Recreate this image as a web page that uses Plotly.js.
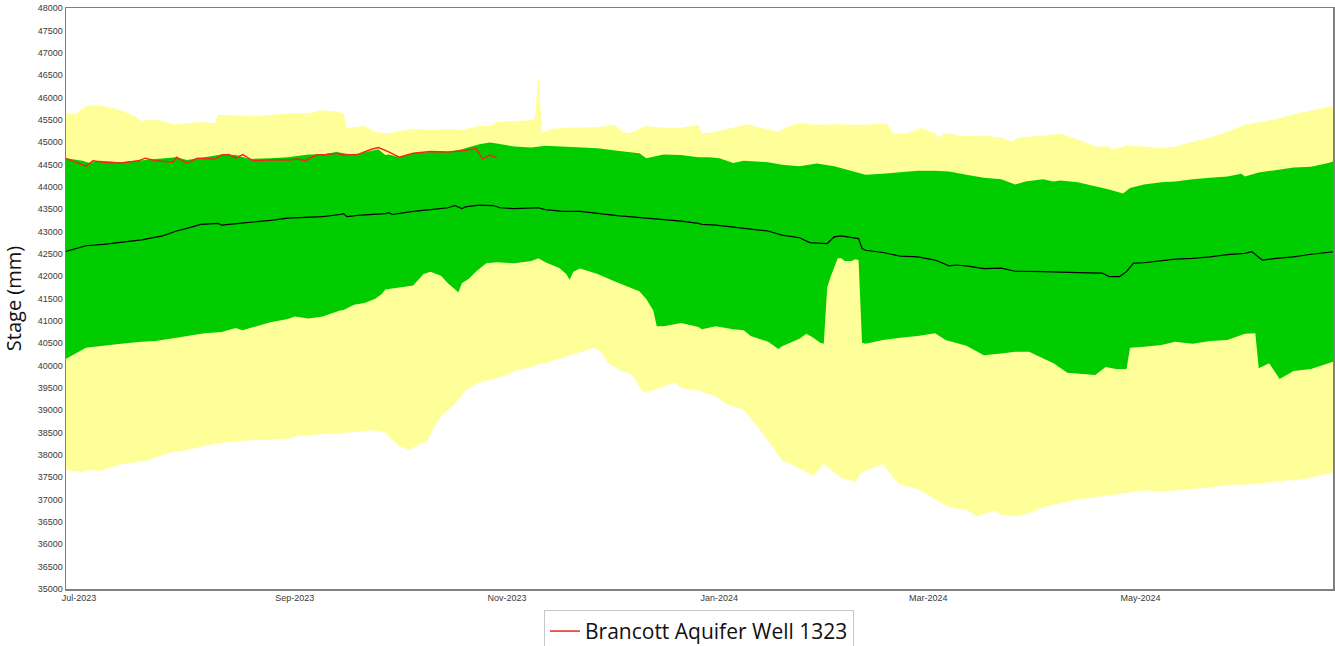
<!DOCTYPE html>
<html>
<head>
<meta charset="utf-8">
<script src="https://cdn.plot.ly/plotly-3.0.1.min.js"></script>
<style>
  html, body { margin: 0; padding: 0; background: #ffffff; }
  #chart { width: 1335px; height: 646px; }
</style>
</head>
<body>
<div id="chart"></div>
<script>
// ---------- Data ----------
// Yellow band: upper envelope (max)
const yellowUpperDates = [
  '2023-06-27','2023-06-30','2023-07-03','2023-07-07','2023-07-09','2023-07-13','2023-07-17','2023-07-19','2023-07-22','2023-07-26',
  '2023-07-28','2023-08-01','2023-08-05','2023-08-09','2023-08-10','2023-08-16','2023-08-21','2023-08-25','2023-08-30','2023-09-05',
  '2023-09-09','2023-09-13','2023-09-15','2023-09-16','2023-09-21','2023-09-24','2023-09-27','2023-09-30','2023-10-05','2023-10-10',
  '2023-10-15','2023-10-19','2023-10-22','2023-10-24','2023-10-27','2023-10-29','2023-11-03','2023-11-08','2023-11-09','2023-11-10',
  '2023-11-11','2023-11-14','2023-11-17','2023-11-22','2023-11-27','2023-12-02','2023-12-04','2023-12-06','2023-12-11','2023-12-16',
  '2023-12-21','2023-12-26','2023-12-27','2023-12-31','2024-01-05','2024-01-09','2024-01-13','2024-01-18','2024-01-21','2024-01-24',
  '2024-01-29','2024-02-03','2024-02-08','2024-02-12','2024-02-18','2024-02-20','2024-02-24','2024-02-28','2024-03-03','2024-03-04',
  '2024-03-06','2024-03-10','2024-03-17','2024-03-22','2024-03-25','2024-03-27','2024-03-30','2024-04-03','2024-04-08','2024-04-13',
  '2024-04-18','2024-04-22','2024-04-23','2024-04-27','2024-05-02','2024-05-07','2024-05-11','2024-05-16','2024-05-21','2024-05-26',
  '2024-05-31','2024-06-04','2024-06-09','2024-06-14','2024-06-19','2024-06-24','2024-06-26'
];
const yellowUpperValues = [
  45650,45620,45820,45820,45790,45710,45580,45470,45510,45450,
  45400,45420,45450,45420,45610,45590,45580,45610,45640,45650,
  45710,45680,45650,45320,45360,45230,45190,45230,45300,45270,
  45290,45270,45320,45360,45360,45450,45470,45490,45530,46520,
  45210,45300,45320,45320,45330,45390,45230,45190,45360,45320,
  45320,45390,45190,45230,45330,45400,45320,45230,45360,45420,
  45390,45400,45390,45390,45420,45190,45190,45320,45190,45100,
  45210,45140,45140,45100,45010,45100,45120,45140,45190,45060,
  44900,44900,44840,44920,44900,44860,44900,45010,45100,45230,
  45390,45450,45510,45620,45710,45790,45800
];

// Yellow band: lower envelope (min)
const yellowLowerDates = [
  '2023-06-27','2023-07-02','2023-07-04','2023-07-07','2023-07-13','2023-07-18','2023-07-21','2023-07-23','2023-07-27','2023-08-01',
  '2023-08-06','2023-08-11','2023-08-16','2023-08-21','2023-08-25','2023-08-30','2023-09-02','2023-09-09','2023-09-14','2023-09-18',
  '2023-09-23','2023-09-27','2023-09-28','2023-10-01','2023-10-04','2023-10-06','2023-10-09','2023-10-11','2023-10-13','2023-10-17',
  '2023-10-20','2023-10-24','2023-10-28','2023-11-01','2023-11-03','2023-11-08','2023-11-11','2023-11-12','2023-11-17','2023-11-22',
  '2023-11-26','2023-11-28','2023-11-30','2023-12-04','2023-12-07','2023-12-10','2023-12-13','2023-12-16','2023-12-19','2023-12-21',
  '2023-12-26','2023-12-29','2023-12-31','2024-01-03','2024-01-08','2024-01-13','2024-01-19','2024-01-24','2024-01-28','2024-01-31',
  '2024-02-03','2024-02-05','2024-02-09','2024-02-11','2024-02-17','2024-02-20','2024-02-22','2024-02-27','2024-03-03','2024-03-07',
  '2024-03-12','2024-03-15','2024-03-20','2024-03-22','2024-03-26','2024-03-30','2024-04-03','2024-04-13','2024-04-22','2024-05-02',
  '2024-05-07','2024-05-11','2024-05-16','2024-05-21','2024-05-26','2024-05-31','2024-06-04','2024-06-09','2024-06-13','2024-06-14',
  '2024-06-19','2024-06-26'
];
const yellowLowerValues = [
  37660,37620,37660,37640,37790,37850,37880,37940,38050,38110,
  38200,38270,38310,38340,38340,38370,38430,38460,38490,38510,
  38550,38510,38400,38200,38110,38200,38310,38620,38860,39140,
  39440,39620,39700,39790,39880,39970,40050,40050,40180,40310,
  40400,40310,40050,39880,39790,39400,39440,39530,39620,39500,
  39440,39360,39310,39140,39010,38530,37880,37700,37530,37790,
  37620,37490,37400,37620,37790,37490,37330,37240,37010,36830,
  36770,36630,36750,36660,36620,36700,36830,37010,37090,37210,
  37180,37210,37240,37270,37330,37330,37360,37400,37440,37420,
  37490,37620
];

// Green band: upper bound
const greenUpperDates = [
  '2023-06-27','2023-07-02','2023-07-04','2023-07-07','2023-07-13','2023-07-19','2023-07-23','2023-07-29','2023-08-01','2023-08-06',
  '2023-08-11','2023-08-15','2023-08-19','2023-08-25','2023-08-30','2023-09-05','2023-09-09','2023-09-13','2023-09-18','2023-09-22',
  '2023-09-25','2023-09-27','2023-09-28','2023-10-01','2023-10-05','2023-10-10','2023-10-15','2023-10-19','2023-10-24','2023-10-27',
  '2023-10-29','2023-11-03','2023-11-08','2023-11-12','2023-11-17','2023-11-22','2023-11-27','2023-12-02','2023-12-06','2023-12-09',
  '2023-12-11','2023-12-16','2023-12-21','2023-12-26','2023-12-29','2024-01-01','2024-01-05','2024-01-08','2024-01-15','2024-01-19',
  '2024-01-24','2024-01-29','2024-02-03','2024-02-08','2024-02-12','2024-02-17','2024-02-22','2024-02-27','2024-03-03','2024-03-07',
  '2024-03-12','2024-03-17','2024-03-22','2024-03-26','2024-03-29','2024-04-03','2024-04-06','2024-04-08','2024-04-13','2024-04-18',
  '2024-04-22','2024-04-26','2024-04-28','2024-05-02','2024-05-07','2024-05-11','2024-05-16','2024-05-21','2024-05-26','2024-05-30',
  '2024-05-31','2024-06-04','2024-06-09','2024-06-14','2024-06-19','2024-06-24','2024-06-26'
];
const greenUpperValues = [
  44640,44580,44530,44580,44550,44600,44620,44660,44600,44660,
  44720,44710,44620,44640,44660,44720,44720,44780,44710,44790,
  44840,44710,44720,44660,44750,44780,44780,44840,44950,44990,
  44970,44900,44880,44920,44900,44880,44860,44810,44780,44750,
  44640,44720,44710,44660,44660,44640,44530,44580,44550,44490,
  44460,44520,44460,44360,44270,44290,44320,44360,44360,44340,
  44270,44200,44170,44050,44120,44170,44120,44140,44100,44010,
  43940,43850,43970,44050,44100,44120,44170,44200,44230,44290,
  44230,44320,44380,44430,44450,44530,44580
];

// Green band: lower bound
const greenLowerDates = [
  '2023-06-27','2023-06-30','2023-07-03','2023-07-08','2023-07-13','2023-07-19','2023-07-23','2023-07-29','2023-08-01','2023-08-06',
  '2023-08-11','2023-08-15','2023-08-17','2023-08-21','2023-08-25','2023-08-30','2023-09-01','2023-09-05','2023-09-09','2023-09-14',
  '2023-09-15','2023-09-18','2023-09-21','2023-09-24','2023-09-26','2023-09-27','2023-09-30','2023-10-05','2023-10-08','2023-10-10',
  '2023-10-13','2023-10-15','2023-10-18','2023-10-19','2023-10-21','2023-10-23','2023-10-26','2023-10-29','2023-11-03','2023-11-08',
  '2023-11-10','2023-11-12','2023-11-16','2023-11-18','2023-11-19','2023-11-20','2023-11-22','2023-11-27','2023-12-02','2023-12-06',
  '2023-12-09','2023-12-11','2023-12-13','2023-12-14','2023-12-16','2023-12-21','2023-12-26','2023-12-27','2023-12-29','2023-12-31',
  '2024-01-05','2024-01-08','2024-01-10','2024-01-15','2024-01-18','2024-01-19','2024-01-24','2024-01-26','2024-01-28','2024-01-30',
  '2024-01-31','2024-02-01','2024-02-02','2024-02-04','2024-02-05','2024-02-06','2024-02-08','2024-02-09','2024-02-10','2024-02-11',
  '2024-02-12','2024-02-17','2024-02-22','2024-02-27','2024-03-03','2024-03-06','2024-03-12','2024-03-17','2024-03-22','2024-03-26',
  '2024-03-30','2024-04-02','2024-04-06','2024-04-10','2024-04-13','2024-04-18','2024-04-21','2024-04-24','2024-04-27','2024-04-28',
  '2024-05-02','2024-05-07','2024-05-11','2024-05-16','2024-05-21','2024-05-26','2024-05-31','2024-06-03','2024-06-04','2024-06-07',
  '2024-06-10','2024-06-14','2024-06-19','2024-06-24','2024-06-26'
];
const greenLowerValues = [
  40140,40270,40400,40440,40490,40530,40550,40620,40660,40720,
  40750,40840,40790,40880,40970,41040,41100,41050,41100,41230,
  41240,41360,41400,41490,41600,41700,41730,41790,42050,42100,
  42010,41840,41640,41840,41940,42100,42290,42310,42290,42340,
  42400,42310,42180,42050,41920,42100,42170,42050,41880,41750,
  41660,41490,41230,40880,40880,40950,40860,40810,40840,40880,
  40810,40790,40660,40530,40370,40430,40600,40710,40620,40510,
  40490,41750,41990,42400,42400,42340,42340,42380,42360,40510,
  40490,40570,40620,40660,40720,40570,40440,40230,40270,40310,
  40310,40200,40050,39840,39820,39790,39970,39920,39920,40400,
  40420,40460,40530,40490,40550,40570,40710,40720,39940,40050,
  39700,39880,39920,40050,40100
];

// Black line: median
const medianDates = [
  '2023-06-27','2023-07-03','2023-07-08','2023-07-13','2023-07-19','2023-07-25','2023-07-29','2023-08-01','2023-08-05','2023-08-10',
  '2023-08-11','2023-08-16','2023-08-21','2023-08-25','2023-08-30','2023-09-04','2023-09-09','2023-09-14','2023-09-15','2023-09-16',
  '2023-09-19','2023-09-27','2023-09-28','2023-09-29','2023-10-05','2023-10-10','2023-10-15','2023-10-17','2023-10-19','2023-10-20',
  '2023-10-24','2023-10-28','2023-10-30','2023-11-03','2023-11-10','2023-11-12','2023-11-17','2023-11-22','2023-11-27','2023-12-02',
  '2023-12-06','2023-12-11','2023-12-16','2023-12-21','2023-12-26','2023-12-27','2023-12-31','2024-01-05','2024-01-10','2024-01-15',
  '2024-01-19','2024-01-24','2024-01-27','2024-02-01','2024-02-03','2024-02-05','2024-02-10','2024-02-11','2024-02-12','2024-02-17',
  '2024-02-22','2024-02-27','2024-03-03','2024-03-07','2024-03-09','2024-03-12','2024-03-17','2024-03-19','2024-03-22','2024-03-26',
  '2024-03-30','2024-04-03','2024-04-13','2024-04-20','2024-04-22','2024-04-25','2024-04-27','2024-04-29','2024-05-02','2024-05-07',
  '2024-05-11','2024-05-16','2024-05-21','2024-05-26','2024-05-31','2024-06-02','2024-06-05','2024-06-09','2024-06-14','2024-06-19',
  '2024-06-26'
];
const medianValues = [
  42550,42680,42710,42750,42810,42900,43010,43070,43160,43180,
  43140,43180,43210,43250,43300,43320,43330,43380,43400,43330,
  43360,43400,43420,43380,43450,43490,43530,43580,43510,43550,
  43590,43580,43530,43510,43530,43490,43450,43450,43400,43360,
  43330,43300,43260,43230,43180,43160,43140,43100,43050,43010,
  42920,42860,42750,42730,42880,42900,42840,42620,42580,42530,
  42450,42430,42360,42230,42250,42230,42170,42180,42180,42110,
  42110,42100,42080,42070,41990,41990,42100,42290,42300,42340,
  42380,42400,42430,42480,42510,42550,42360,42400,42430,42490,
  42550
];

// Red line: observed stage, Brancott Aquifer Well 1323
const wellName = 'Brancott Aquifer Well 1323';
const wellDates = [
  '2023-06-27','2023-07-03','2023-07-05','2023-07-08','2023-07-13','2023-07-18','2023-07-20','2023-07-23','2023-07-28','2023-07-29',
  '2023-08-01','2023-08-04','2023-08-09','2023-08-11','2023-08-13','2023-08-15','2023-08-17','2023-08-20','2023-08-25','2023-08-30',
  '2023-09-02','2023-09-04','2023-09-07','2023-09-10','2023-09-13','2023-09-15','2023-09-19','2023-09-23','2023-09-25','2023-09-28',
  '2023-10-01','2023-10-05','2023-10-10','2023-10-15','2023-10-20','2023-10-23','2023-10-25','2023-10-27','2023-10-29'
];
const wellValues = [
  44640,44460,44580,44550,44530,44580,44640,44580,44550,44660,
  44530,44640,44620,44710,44720,44640,44720,44580,44600,44600,
  44620,44580,44710,44720,44750,44710,44720,44840,44880,44780,
  44660,44750,44790,44780,44810,44860,44620,44710,44650
];

// Axis ticks
const xTickVals = ['2023-07-01','2023-09-01','2023-11-01','2024-01-01','2024-03-01','2024-05-01'];
const xTickText = ['Jul-2023','Sep-2023','Nov-2023','Jan-2024','Mar-2024','May-2024'];
const yTickVals = [35000,35500,36000,36500,37000,37500,38000,38500,39000,39500,40000,40500,41000,41500,
                   42000,42500,43000,43500,44000,44500,45000,45500,46000,46500,47000,47500,48000];
const yTickText = ['35000','36500','36000','36500','37000','37500','38000','38500','39000','39500','40000','40500','41000','41500',
                   '42000','42500','43000','43500','44000','44500','45000','45500','46000','46500','47000','47500','48000'];

// ---------- Traces ----------
const YELLOW = '#FFFF99';
const GREEN = '#00CC00';

const traces = [
  { x: yellowLowerDates, y: yellowLowerValues, type: 'scatter', mode: 'lines',
    line: { width: 0, color: YELLOW }, showlegend: false, hoverinfo: 'skip' },
  { x: yellowUpperDates, y: yellowUpperValues, type: 'scatter', mode: 'lines',
    line: { width: 0, color: YELLOW }, fill: 'tonexty', fillcolor: YELLOW, showlegend: false, hoverinfo: 'skip' },
  { x: greenLowerDates, y: greenLowerValues, type: 'scatter', mode: 'lines',
    line: { width: 0, color: GREEN }, showlegend: false, hoverinfo: 'skip' },
  { x: greenUpperDates, y: greenUpperValues, type: 'scatter', mode: 'lines',
    line: { width: 0, color: GREEN }, fill: 'tonexty', fillcolor: GREEN, showlegend: false, hoverinfo: 'skip' },
  { x: medianDates, y: medianValues, type: 'scatter', mode: 'lines',
    line: { width: 1.2, color: '#000000' }, showlegend: false, hoverinfo: 'skip' },
  { x: wellDates, y: wellValues, type: 'scatter', mode: 'lines', name: wellName,
    line: { width: 1.5, color: '#F2261A' }, showlegend: true }
];

const tickFont = { family: 'Liberation Sans, Arial, sans-serif', size: 9, color: '#3a3a3a' };

const layout = {
  width: 1335,
  height: 646,
  margin: { l: 66, r: 2, t: 8, b: 57, autoexpand: false },
  paper_bgcolor: '#ffffff',
  plot_bgcolor: '#ffffff',
  showlegend: true,
  hovermode: false,
  xaxis: {
    type: 'date',
    range: ['2023-06-27 06:00', '2024-06-25 08:00'],
    tickvals: xTickVals,
    ticktext: xTickText,
    tickfont: tickFont,
    ticks: '',
    showgrid: false,
    zeroline: false,
    showline: true,
    mirror: true,
    linecolor: '#808080',
    linewidth: 1.5,
    automargin: false
  },
  yaxis: {
    range: [35000, 48000],
    tickvals: yTickVals,
    ticktext: yTickText,
    tickfont: tickFont,
    ticks: '',
    showgrid: false,
    zeroline: false,
    showline: true,
    mirror: true,
    linecolor: '#808080',
    linewidth: 1.5,
    automargin: false,
    title: { text: 'Stage (mm)', font: { family: 'Open Sans, Noto Sans, sans-serif', size: 20, color: '#111111' } }
  },
  legend: {
    orientation: 'h',
    x: 0.4996,
    xanchor: 'center',
    y: -0.036,
    yanchor: 'top',
    bgcolor: '#ffffff',
    bordercolor: '#c8c8c8',
    borderwidth: 1,
    font: { family: 'Open Sans, Noto Sans, sans-serif', size: 21, color: '#111111' }
  }
};

Plotly.newPlot('chart', traces, layout, { displayModeBar: false, staticPlot: true });
</script>
</body>
</html>
